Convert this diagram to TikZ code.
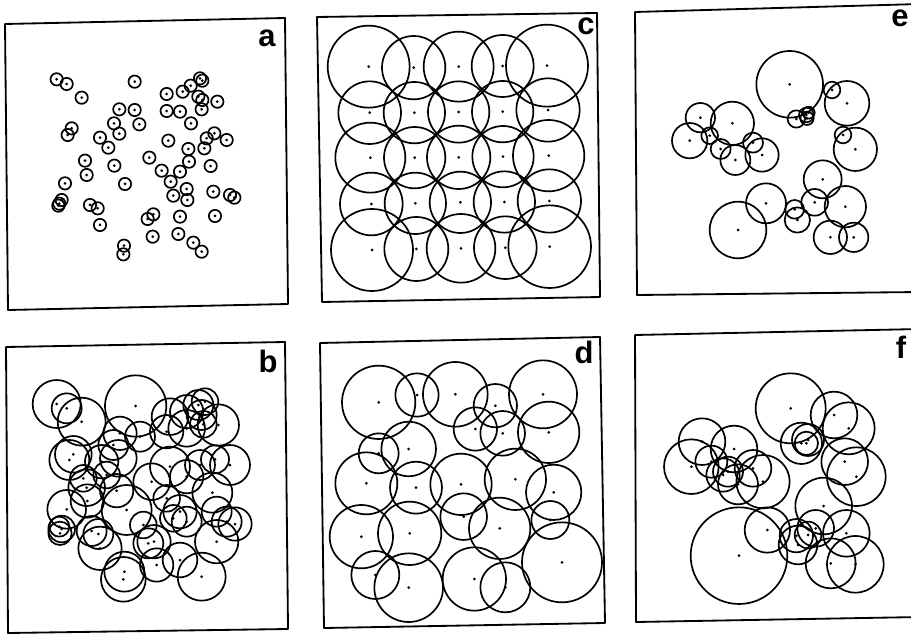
\documentclass[tikz,border=0pt]{standalone}
\usepackage{fontspec}
\setmainfont{Liberation Sans}
\begin{document}
\begin{tikzpicture}[x=0.025cm,y=-0.025cm,line join=round]
\tikzstyle{frame}=[line width=1.3pt]
\tikzstyle{ring}=[line width=1.2pt]
\tikzstyle{lab}=[font=\fontsize{22}{22}\selectfont\bfseries,anchor=base,inner sep=0pt]
\useasboundingbox (0,0) rectangle (911,635);
\fill[white] (0,0) rectangle (911,635);
% panel frames
\draw[frame] (5,24) -- (285,18) -- (288,304) -- (8,310) -- cycle;
\draw[frame] (317,17) -- (597,13) -- (600,297) -- (322,302) -- cycle;
\draw[frame] (920,4) -- (635,12) -- (637,295) -- (920,292);
\draw[frame] (6,347) -- (285,342) -- (288,629) -- (8,633) -- cycle;
\draw[frame] (320,343) -- (600,337) -- (605,623) -- (324,628) -- cycle;
\draw[frame] (920,329) -- (635,335) -- (636,622) -- (920,617);
% labels
\node[lab] (la) at (267,47) {a};
\node[lab] (lc) at (586,35) {c};
\node[lab] (le) at (900,27) {e};
\node[lab] (lb) at (268,372) {b};
\node[lab] (ld) at (584,363) {d};
\node[lab] (lf) at (901,358) {f};
% a
\begin{scope}[shift={(0,15)},scale=1/3]
\foreach \x/\y in {170/193,200/207,245/248,404/200,500/237,548/230,572/212,600/190,607/197,595/245,607/255,652/260,
  500/288,540/290,605/283,358/283,404/285,418/328,342/325,358/356,215/340,203/360,300/368,325/398,573/325,505/377,
  643/355,620/370,680/375,613/400,565/402,567/440,255/437,260/480,343/452,448/428,485/467,540/470,632/453,195/505,
  375/507,512/500,560/522,520/542,562/555,640/530,690/540,703/548,185/555,178/566,175/572,270/570,293/580,300/630,
  443/612,460/598,540/605,645/603,458/665,535/657,580/683,605/710,372/692,370/718}
  {\draw[ring] (\x,\y) circle[radius=18.5]; \fill (\x,\y) circle[radius=4.5];}
\end{scope}
% c
\begin{scope}[shift={(312,0)},scale=1/3]
\foreach \x/\y/\r in {170/200/123,305/203/95,440/200/105,572/198/93,705/197/123,
  173/338/94,307/338/92,440/336/92,572/335/92,708/330/95,
  175/473/105,308/473/92,440/472/95,573/470/92,710/467/107,
  178/612/94,310/610/92,445/607/92,577/606/92,712/603/95,
  180/750/123,313/747/96,447/745/103,580/743/94,713/740/124}
  {\draw[ring] (\x,\y) circle[radius=\r]; \fill (\x,\y) circle[radius=4.5];}
\end{scope}
% e
\begin{scope}[shift={(628,0)},scale=1/3]
\foreach \x/\y/\r in {485/253/100,505/357/26,535/345/22,542/338/18,537/355/20,612/270/25,657/310/67,645/405/25,
  682/448/65,217/353/44,313/370/65,185/422/53,245/407/25,278/447/30,322/480/45,375/428/30,402/465/50,
  584/538/57,414/610/60,330/690/85,500/628/28,508/660/38,560/607/40,652/620/62,607/712/50,677/712/44}
  {\draw[ring] (\x,\y) circle[radius=\r]; \fill (\x,\y) circle[radius=4.5];}
\end{scope}
% b
\begin{scope}[shift={(0,325)},scale=1/3]
\foreach \x/\y/\r in {170/237/72,200/250/45,245/290/72,407/243/92,510/275/55,560/260/50,595/240/45,615/230/40,
  605/270/45,610/298/40,655/300/62,560/310/55,500/320/50,360/325/50,420/335/45,220/388/55,208/405/60,
  305/410/50,355/400/55,340/360/45,510/425/60,645/403/42,690/420/60,600/420/45,560/455/50,260/488/55,
  262/528/50,350/497/50,380/555/75,455/470/55,200/553/58,500/520/40,540/560/50,520/580/40,560/590/45,
  637/503/60,650/560/45,705/597/50,680/590/45,185/612/40,180/625/35,178/605/30,275/618/45,295/627/45,
  300/670/65,445/655/45,462/650/50,540/705/52,650/650/65,373/740/60,370/763/67,605/755/72,470/720/50,
  250/460/40,320/450/40,430/600/40}
  {\draw[ring] (\x,\y) circle[radius=\r]; \fill (\x,\y) circle[radius=4.5];}
\end{scope}
% d
\begin{scope}[shift={(312,325)},scale=1/3]
\foreach \x/\y/\r in {200/232/110,315/210/65,430/208/97,550/242/65,693/208/102,490/312/65,572/325/67,710/322/92,
  200/385/60,290/372/82,163/475/93,312/488/78,447/478/92,610/463/92,725/502/83,455/575/70,563/610/92,
  715/585/57,148/635/95,293/625/95,750/712/120,190/750/72,290/788/103,487/762/95,580/787/75}
  {\draw[ring] (\x,\y) circle[radius=\r]; \fill (\x,\y) circle[radius=4.5];}
\end{scope}
% f
\begin{scope}[shift={(628,325)},scale=1/3]
\foreach \x/\y/\r in {488/250/105,618/270/70,662/310/78,520/355/62,540/345/48,535/355/35,650/410/70,685/455/88,
  222/350/70,318/372/70,190/425/82,250/410/48,285/450/50,330/478/60,375/430/55,405/470/80,300/440/45,
  587/543/85,418/615/68,333/692/145,505/632/50,510/660/58,563/610/55,655/625/70,608/715/75,682/718/85,540/630/40}
  {\draw[ring] (\x,\y) circle[radius=\r]; \fill (\x,\y) circle[radius=4.5];}
\end{scope}
\end{tikzpicture}
\end{document}
